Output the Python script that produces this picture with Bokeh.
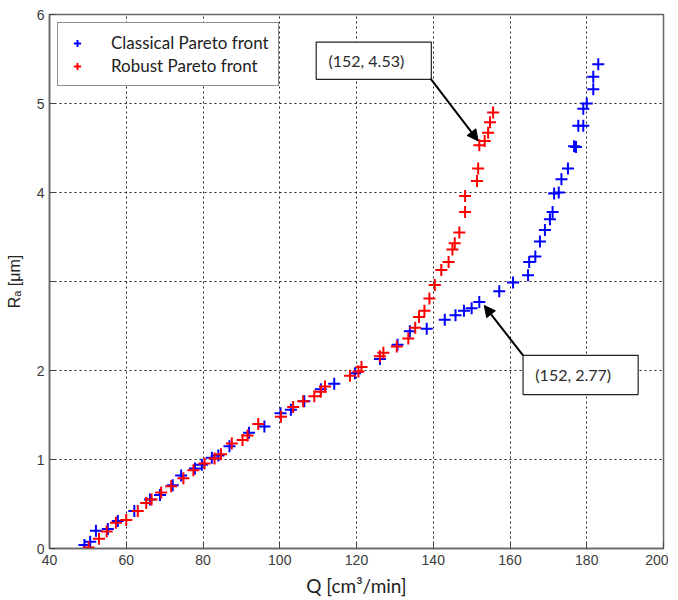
from bokeh.plotting import figure
from bokeh.models import ColumnDataSource, Arrow, NormalHead, FixedTicker, Legend, LegendItem
from bokeh.core.properties import value
from bokeh.embed import file_html
from bokeh.resources import INLINE

# Classical Pareto front (Q [cm3/min], Ra [um])
classical_q = [49.1, 50.6, 52.1, 55.2, 57.8, 62.1, 66.2, 68.8, 72.1, 74.3, 77.9, 79.7,
               82.3, 84.0, 86.9, 92.0, 96.0, 100.2, 102.9, 106.4, 110.7, 114.2, 119.6,
               126.1, 130.7, 133.9, 138.3, 143.0, 145.8, 148.0, 150.0, 152.0, 157.2,
               160.8, 164.7, 165.0, 166.6, 167.8, 169.1, 170.4, 171.1, 171.5, 172.7,
               173.4, 175.1, 176.7, 177.2, 177.8, 179.1, 179.1, 180.0, 181.7, 181.7, 183.0]
classical_ra = [0.04, 0.075, 0.20, 0.22, 0.31, 0.42, 0.55, 0.60, 0.71, 0.82, 0.90, 0.94,
                1.02, 1.045, 1.15, 1.30, 1.37, 1.52, 1.56, 1.655, 1.79, 1.85, 1.97,
                2.13, 2.29, 2.44, 2.47, 2.57, 2.62, 2.67, 2.70, 2.77, 2.89,
                2.99, 3.07, 3.22, 3.28, 3.45, 3.58, 3.70, 3.78, 3.99, 4.00,
                4.15, 4.27, 4.52, 4.51, 4.75, 4.75, 4.94, 5.00, 5.16, 5.30, 5.44]

# Robust Pareto front
robust_q = [50.2, 52.9, 54.9, 57.3, 60.0, 63.0, 65.2, 66.6, 69.1, 71.7, 74.9, 77.5,
            80.4, 83.0, 84.7, 87.5, 90.3, 91.6, 94.4, 100.3, 103.5, 106.1, 109.0,
            110.7, 111.8, 118.3, 120.5, 121.3, 126.1, 127.0, 130.5, 133.5, 135.3,
            136.3, 137.7, 139.0, 140.4, 142.1, 144.0, 145.0, 145.6, 146.8, 148.3,
            148.3, 151.4, 151.7, 152.0, 153.4, 154.3, 154.8, 155.6]
robust_ra = [0.01, 0.11, 0.19, 0.29, 0.32, 0.42, 0.51, 0.55, 0.63, 0.70, 0.79, 0.88,
             0.955, 1.01, 1.06, 1.18, 1.22, 1.27, 1.40, 1.48, 1.59, 1.655, 1.71,
             1.76, 1.82, 1.94, 1.99, 2.04, 2.16, 2.20, 2.27, 2.36, 2.48,
             2.60, 2.67, 2.81, 2.96, 3.13, 3.22, 3.36, 3.43, 3.55, 3.78,
             3.96, 4.13, 4.27, 4.53, 4.58, 4.67, 4.79, 4.90]

x_ticks = [40, 60, 80, 100, 120, 140, 160, 180, 200]
y_ticks = [0, 1, 2, 3, 4, 5, 6]
y_tick_labels = {3: ""}

# annotations: label, arrow tip (data), arrow start (data), box [left, right, bottom, top]
ann_labels = ["(152, 4.53)", "(152, 2.77)"]
ann_tip = [(151.7, 4.58), (153.3, 2.73)]
ann_start = [(139.3, 5.28), (163.4, 2.17)]
ann_box = [(109.5, 139.5, 5.27, 5.69), (163.4, 193.4, 1.73, 2.17)]

p = figure(frame_width=614, frame_height=534, x_range=(40, 200), y_range=(0, 6),
           output_backend="svg", toolbar_location=None,
           min_border_left=49, min_border_right=5, min_border_top=14, min_border_bottom=43,
           background_fill_color="white", border_fill_color="white")

p.outline_line_color = "#666666"
p.outline_line_width = 1.5

for ax in (p.xaxis, p.yaxis):
    ax.axis_line_color = "#666666"
    ax.axis_line_width = 1.5
    ax.major_tick_in = 6
    ax.major_tick_out = 0
    ax.major_tick_line_color = "#444444"
    ax.minor_tick_line_color = None
    ax.major_label_text_font = "Liberation Sans"
    ax.major_label_text_font_size = "14px"
    ax.major_label_text_color = "#3a3a3a"
    ax.axis_label_text_font_style = "normal"
    ax.axis_label_text_color = "#222222"

p.xaxis.ticker = FixedTicker(ticks=x_ticks)
p.yaxis.ticker = FixedTicker(ticks=y_ticks)
p.yaxis.major_label_overrides = y_tick_labels
p.xaxis.major_label_standoff = 6
p.yaxis.major_label_standoff = 5

p.xaxis.axis_label = "Q [cm³/min]"
p.xaxis.axis_label_text_font = "Lato"
p.xaxis.axis_label_text_font_size = "19px"
p.xaxis.axis_label_standoff = 6
p.yaxis.axis_label = "Rₐ [μm]"
p.yaxis.axis_label_text_font = "Liberation Sans"
p.yaxis.axis_label_text_font_size = "16px"
p.yaxis.axis_label_standoff = 11

p.grid.grid_line_color = "#222222"
p.grid.grid_line_dash = "2 3"
p.grid.grid_line_width = 1

src_c = ColumnDataSource(dict(x=classical_q, y=classical_ra))
src_r = ColumnDataSource(dict(x=robust_q, y=robust_ra))
r_c = p.scatter("x", "y", source=src_c, marker="cross", size=12, line_width=2, line_color="#0000ff")
r_r = p.scatter("x", "y", source=src_r, marker="cross", size=12, line_width=2, line_color="#ff0000")

# annotation boxes and text
box_src = ColumnDataSource(dict(
    left=[b[0] for b in ann_box], right=[b[1] for b in ann_box],
    bottom=[b[2] for b in ann_box], top=[b[3] for b in ann_box],
    tx=[b[0] + 3.2 for b in ann_box], ty=[(b[2] + b[3]) / 2 for b in ann_box],
    label=ann_labels))
p.quad(left="left", right="right", bottom="bottom", top="top", source=box_src,
       fill_color="white", line_color="#222222", line_width=1.2)
p.text(x="tx", y="ty", text="label", source=box_src, text_font=value("Lato"),
       text_font_size="16px", text_color="#2a2a2a", text_align="left", text_baseline="middle")

for (sx, sy), (ex, ey) in zip(ann_start, ann_tip):
    p.add_layout(Arrow(x_start=sx, y_start=sy, x_end=ex, y_end=ey, line_width=2, line_color="black",
                       end=NormalHead(size=11, fill_color="black", line_color="black", line_width=1)))

legend = Legend(items=[LegendItem(label="Classical Pareto front", renderers=[r_c]),
                       LegendItem(label="Robust Pareto front", renderers=[r_r])],
                location="top_left")
legend.margin = 8
legend.padding = 9
legend.spacing = 2
legend.glyph_width = 20
legend.glyph_height = 18
legend.label_height = 18
legend.label_standoff = 24
legend.label_text_font = "Lato"
legend.label_text_font_size = "17px"
legend.label_text_color = "#222222"
legend.border_line_color = "#222222"
legend.border_line_width = 1.2
legend.background_fill_alpha = 1
legend.background_fill_color = "white"
p.add_layout(legend)

open("out.html", "w").write(file_html(p, INLINE))
